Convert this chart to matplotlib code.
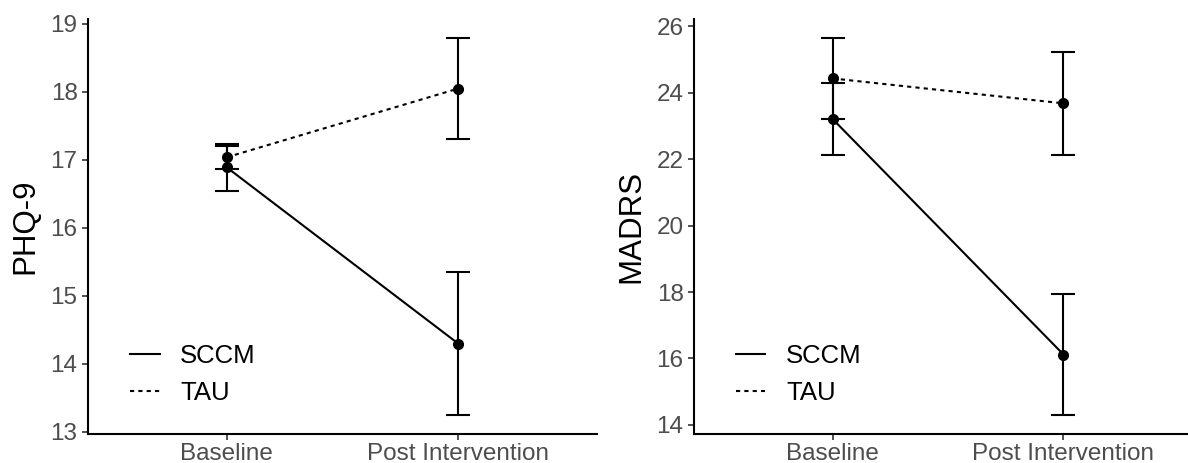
import numpy as np
import matplotlib.pyplot as plt

plt.rcParams['font.family'] = ['Liberation Sans', 'DejaVu Sans']

# ---- datos ----
tiempos = ["Baseline", "Post Intervention"]
grupos = ["SCCM", "TAU"]

phq_media = {"SCCM": [16.89, 14.30], "TAU": [17.04, 18.05]}
phq_error = {"SCCM": [0.34, 1.05], "TAU": [0.17, 0.74]}

madrs_media = {"SCCM": [23.21, 16.12], "TAU": [24.43, 23.68]}
madrs_error = {"SCCM": [1.09, 1.82], "TAU": [1.21, 1.54]}

estilos = {"SCCM": "-", "TAU": (0, (2, 2))}
gris = "#4D4D4D"

fig = plt.figure(figsize=(11.88, 4.63), dpi=100)
ax1 = fig.add_axes([88/1188, 29.2/463, 509/1188, 414.4/463])
ax2 = fig.add_axes([694/1188, 29.2/463, 508/1188, 414.4/463])


def panel(ax, medias, errores, etiqueta, yticks):
    x = np.arange(1, len(tiempos) + 1)
    for g in grupos:
        m = np.array(medias[g])
        e = np.array(errores[g])
        ax.errorbar(x, m, yerr=e, fmt='none', ecolor='black',
                    elinewidth=1.5, capsize=8.5, capthick=1.5, zorder=2)
        ax.plot(x, m, linestyle=estilos[g], color='black', linewidth=1.5,
                label=g, zorder=3)
        ax.plot(x, m, 'o', color='black', markersize=7, zorder=4)
    ax.set_xlim(0.4, 2.6)
    ax.margins(y=0.05)
    ax.set_xticks(x)
    ax.set_xticklabels(tiempos)
    ax.set_yticks(yticks)
    ax.set_ylabel(etiqueta, fontsize=22.5, color='black', labelpad=7)
    ax.tick_params(axis='both', labelsize=17.5, labelcolor=gris,
                   length=4, width=1.2, color='#333333')
    ax.tick_params(axis='x', pad=2.5)
    ax.tick_params(axis='y', pad=3.5)
    for s in ['top', 'right']:
        ax.spines[s].set_visible(False)
    for s in ['left', 'bottom']:
        ax.spines[s].set_linewidth(1.5)
    ax.legend(loc='center left', bbox_to_anchor=(0.0825, 0.143),
              frameon=False, fontsize=18.5, handlelength=1.15,
              handletextpad=0.8, labelspacing=0.53, borderpad=0,
              borderaxespad=0)


panel(ax1, phq_media, phq_error, "PHQ-9", [13, 14, 15, 16, 17, 18, 19])
panel(ax2, madrs_media, madrs_error, "MADRS", [14, 16, 18, 20, 22, 24, 26])

fig.savefig("out.png", dpi=100)
